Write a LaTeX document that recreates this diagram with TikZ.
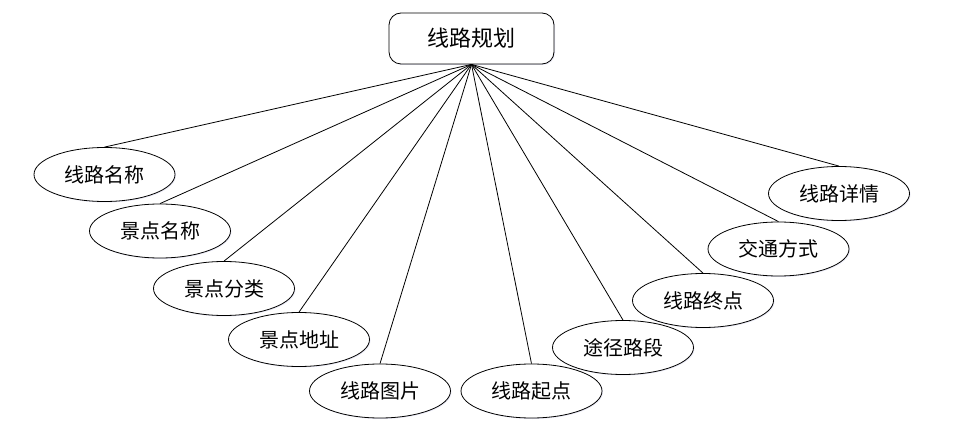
\documentclass[tikz,border=0pt]{standalone}
\usepackage{fontspec}
\setmainfont{Noto Sans CJK SC}
\usepackage{tikz}
\usetikzlibrary{shapes.geometric,shadows}
\tikzstyle{every node}=[font=\fontsize{20}{22}\selectfont]
\tikzstyle{plan}=[draw=black,thick,rounded corners=12pt,fill=white,
  minimum width=165pt,minimum height=51pt,inner sep=0pt,
  font=\fontsize{22}{24}\selectfont,
  drop shadow={opacity=0.12,shadow xshift=1pt,shadow yshift=-1pt,fill=blue!40!gray}]
\tikzstyle{attr}=[draw=black,thick,ellipse,fill=white,
  minimum width=141pt,minimum height=54pt,inner sep=0pt,
  drop shadow={opacity=0.12,shadow xshift=1pt,shadow yshift=-1pt,fill=blue!40!gray}]

\begin{document}
\begin{tikzpicture}[x=1pt,y=-1pt]
  \useasboundingbox (0,0) rectangle (960,438);
  \node[plan] (root) at (471.5,38.5) {线路规划};
  % attributes
  \node[attr] (mc) at (104.5,174.5) {线路名称};
  \node[attr] (jdmc) at (160,231) {景点名称};
  \node[attr] (jdfl) at (224,288.5) {景点分类};
  \node[attr] (jddz) at (299,339.5) {景点地址};
  \node[attr] (tp) at (380,391) {线路图片};
  \node[attr] (qd) at (531.5,391) {线路起点};
  \node[attr] (tj) at (623,347.5) {途径路段};
  \node[attr] (zd) at (703,300.5) {线路终点};
  \node[attr] (jt) at (778.5,249) {交通方式};
  \node[attr] (xq) at (839,193.5) {线路详情};
  \foreach \n in {mc,jdmc,jdfl,jddz,tp,qd,tj,zd,jt,xq}
    \draw[line width=0.8pt] (root.south) -- (\n.north);
\end{tikzpicture}
\end{document}
